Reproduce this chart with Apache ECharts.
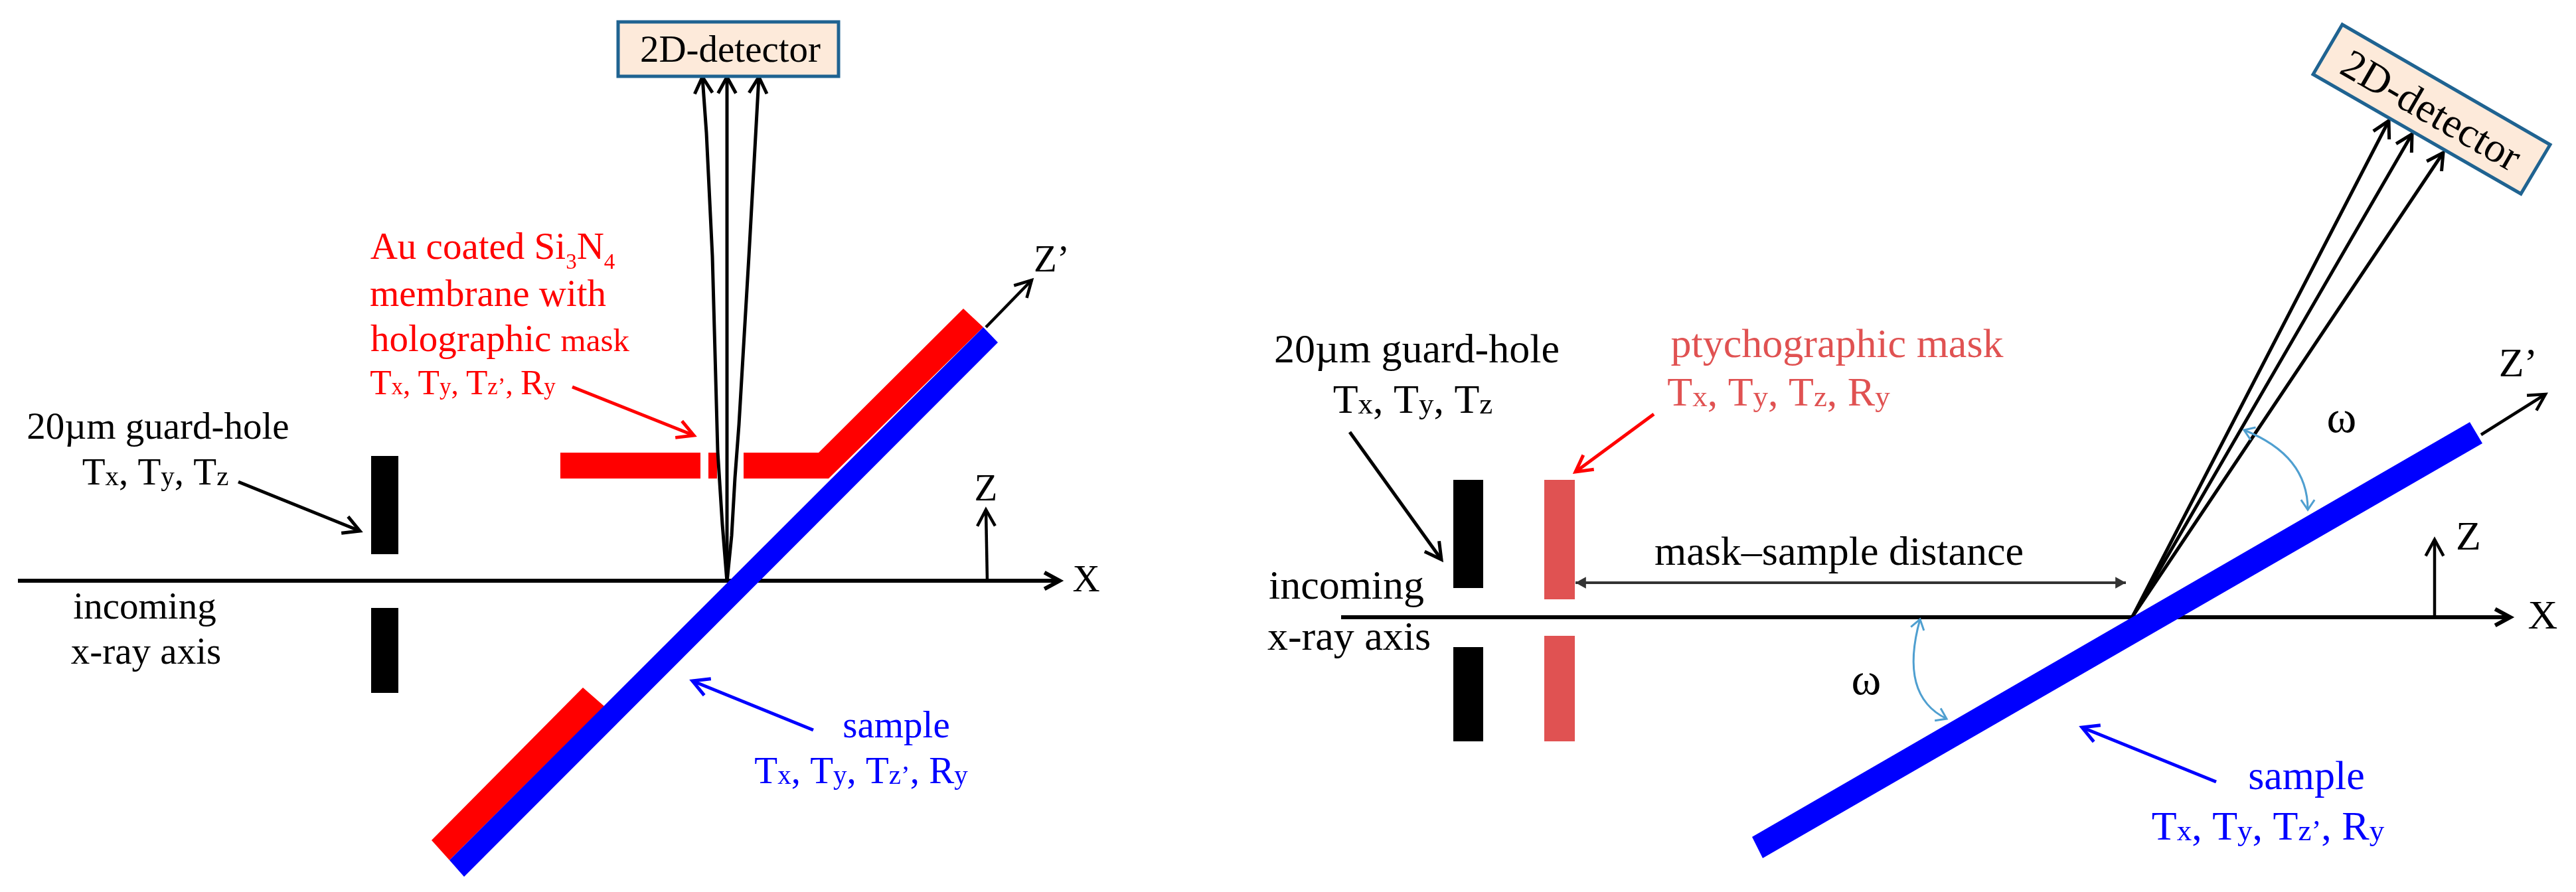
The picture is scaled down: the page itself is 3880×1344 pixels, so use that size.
<!DOCTYPE html>
<html>
<head>
<meta charset="utf-8">
<style>
  html, body { margin: 0; padding: 0; background: #fff; }
  #chart { width: 3880px; height: 1344px; }
</style>
<script src="https://cdn.jsdelivr.net/npm/echarts@6/dist/echarts.min.js"></script>
</head>
<body>
<div id="chart"></div>
<script>

// Left panel shapes
var leftDetector = [[931, 33], [1263, 33], [1263, 115], [931, 115]];
var leftSlits = [
    [[559, 687], [600, 687], [600, 835], [559, 835]],
    [[559, 916], [600, 916], [600, 1044], [559, 1044]]
];
var leftMask = [
    [[844, 682], [1055, 682], [1055, 721], [844, 721]],
    [[1067, 682], [1080, 682], [1080, 721], [1067, 721]],
    [[1120, 682], [1233, 682], [1451, 465], [1481, 493], [1248, 721], [1120, 721]],
    [[878, 1036], [910, 1064], [677, 1296], [650, 1266]]
];
var leftSample = [[1481, 493], [1503, 516], [699, 1321], [677, 1296]];

// Right panel shapes
var rightDetector = [[3528, 37], [3841, 218], [3797, 292], [3484, 112]];
var rightSlits = [
    [[2189, 723], [2234, 723], [2234, 886], [2189, 886]],
    [[2189, 975], [2234, 975], [2234, 1117], [2189, 1117]]
];
var rightMask = [
    [[2326, 723], [2372, 723], [2372, 903], [2326, 903]],
    [[2326, 958], [2372, 958], [2372, 1117], [2326, 1117]]
];
var rightSample = [[3720, 636], [3739, 668], [2655, 1293], [2639, 1261]];

// Arrows, tail to tip
var axisArrows = [
    [[27, 875], [1596, 875]],
    [[2020, 930], [3781, 930]]
];
var beamArrows = [
    [[1095, 877], [1088, 790], [1081, 680], [1073, 386], [1064, 200], [1058, 116]],
    [[1095, 877], [1095, 116]],
    [[1095, 877], [1102, 807], [1107, 720], [1113, 640], [1128, 386], [1143, 116]],
    [[3212, 929], [3598, 182]],
    [[3212, 929], [3633, 202]],
    [[3212, 929], [3680, 230]]
];
var frameArrows = [
    [[1487, 875], [1485, 768]],
    [[1485, 493], [1554, 422]],
    [[3667, 930], [3667, 813]],
    [[3737, 655], [3834, 594]]
];
var blackPointers = [
    [[359, 726], [542, 800]],
    [[2033, 651], [2171, 843]]
];
var redPointers = [
    [[862, 583], [1045, 656]],
    [[2491, 624], [2373, 711]]
];
var bluePointers = [
    [[1225, 1100], [1043, 1026]],
    [[3338, 1178], [3136, 1096]]
];
var distanceArrow = [[[2373, 878], [3202, 878]]];

// Omega arcs: start, control, end
var omegaArcs = [
    [[3380, 648], [3476, 686], [3476, 768]],
    [[2892, 933], [2860, 1048], [2932, 1083]]
];

// Labels: x, y, text
var leftBlackLabels = [
    [1100, 78, '2D-detector'],
    [238, 646, '20µm guard-hole'],
    [234, 715, '{m|T}{s|x}{m|, T}{s|y}{m|, T}{s|z}'],
    [218, 917, 'incoming'],
    [220, 985, 'x-ray axis'],
    [1636, 876, 'X'],
    [1485, 739, 'Z'],
    [1584, 394, 'Z’']
];
var leftRedLabels = [
    [742, 380, '{n|Au coated Si}{b|3}{n|N}{b|4}'],
    [735, 446, 'membrane with'],
    [753, 514, '{m|holographic }{k|mask}']
];
var leftRedMotionLabel = [
    [697, 580, '{m|T}{s|x}{c|, }{m|T}{s|y}{c|, }{m|T}{s|z’}{c|, }{m|R}{s|y}']
];
var leftBlueLabels = [
    [1350, 1096, 'sample'],
    [1297, 1165, '{m|T}{s|x}{m|, T}{s|y}{m|, T}{s|z’}{m|, R}{s|y}']
];
var rightBlackLabels = [
    [2134, 530, '20µm guard-hole'],
    [2128, 606, '{m|T}{s|x}{m|, T}{s|y}{m|, T}{s|z}'],
    [2028, 886, 'incoming'],
    [2032, 963, 'x-ray axis'],
    [2770, 835, 'mask–sample distance'],
    [3830, 931, 'X'],
    [3718, 812, 'Z'],
    [3793, 551, 'Z’']
];
var omegaLabels = [
    [3527, 633, 'ω'],
    [2811, 1028, 'ω']
];
var rightRedLabels = [
    [2767, 522, 'ptychographic mask'],
    [2679, 595, '{m|T}{s|x}{m|, T}{s|y}{m|, T}{s|z}{m|, R}{s|y}']
];
var rightBlueLabels = [
    [3474, 1173, 'sample'],
    [3416, 1249, '{m|T}{s|x}{m|, T}{s|y}{m|, T}{s|z’}{m|, R}{s|y}']
];
var rightDetectorLabel = [[3660, 170, '2D-detector']];

var SERIF = '"Liberation Serif"';

function font(size) {
    return size + 'px ' + SERIF;
}

// wing end of an arrow head, in pixels
function wing(tip, from, len, angle) {
    var a = Math.atan2(from[1] - tip[1], from[0] - tip[0]) + angle;
    return [tip[0] + Math.cos(a) * len, tip[1] + Math.sin(a) * len];
}

function shapeSeries(shapes, fill, z, stroke, strokeWidth) {
    return {
        type: 'custom',
        coordinateSystem: 'cartesian2d',
        clip: false,
        silent: true,
        z: z,
        data: shapes.map(function (s) { return s[0]; }),
        renderItem: function (params, api) {
            return {
                type: 'polygon',
                shape: { points: shapes[params.dataIndex].map(function (p) { return api.coord(p); }) },
                style: { fill: fill, stroke: stroke || null, lineWidth: strokeWidth || 0 }
            };
        }
    };
}

function arrowSeries(paths, color, width, headLen, z, filledBothEnds) {
    return {
        type: 'custom',
        coordinateSystem: 'cartesian2d',
        clip: false,
        silent: true,
        z: z,
        data: paths.map(function (s) { return s[0]; }),
        renderItem: function (params, api) {
            var pts = paths[params.dataIndex].map(function (p) { return api.coord(p); });
            var n = pts.length;
            var line = { stroke: color, fill: null, lineWidth: width };
            var kids = [{ type: 'polyline', shape: { points: pts }, style: line }];
            if (filledBothEnds) {
                [[pts[0], pts[1]], [pts[n - 1], pts[n - 2]]].forEach(function (e) {
                    kids.push({
                        type: 'polygon',
                        shape: { points: [e[0], wing(e[0], e[1], headLen, 0.5), wing(e[0], e[1], headLen, -0.5)] },
                        style: { fill: color }
                    });
                });
            } else {
                kids.push({
                    type: 'polyline',
                    shape: { points: [wing(pts[n - 1], pts[n - 2], headLen, 0.5), pts[n - 1], wing(pts[n - 1], pts[n - 2], headLen, -0.5)] },
                    style: line
                });
            }
            return { type: 'group', children: kids };
        }
    };
}

function arcSeries(arcs, color, width, headLen, z) {
    return {
        type: 'custom',
        coordinateSystem: 'cartesian2d',
        clip: false,
        silent: true,
        z: z,
        data: arcs.map(function (s) { return s[0]; }),
        renderItem: function (params, api) {
            var pts = arcs[params.dataIndex].map(function (p) { return api.coord(p); });
            var line = { stroke: color, fill: null, lineWidth: width };
            var head = function (tip, from) {
                return {
                    type: 'polyline',
                    shape: { points: [wing(tip, from, headLen, 0.6), tip, wing(tip, from, headLen, -0.6)] },
                    style: line
                };
            };
            return {
                type: 'group',
                children: [
                    {
                        type: 'bezierCurve',
                        shape: { x1: pts[0][0], y1: pts[0][1], cpx1: pts[1][0], cpy1: pts[1][1], x2: pts[2][0], y2: pts[2][1] },
                        style: line
                    },
                    head(pts[0], pts[1]),
                    head(pts[2], pts[1])
                ]
            };
        }
    };
}

// smaller tokens sit on the main baseline, the padding makes up for the height difference
function smallToken(size, small) {
    return {
        font: font(small),
        verticalAlign: 'bottom',
        padding: [0, 0, Math.round((size - small) * 0.2), 0]
    };
}

function labelSeries(labels, color, size, opts) {
    opts = opts || {};
    var rich = {
        m: { font: font(size) },
        n: { font: font(size), verticalAlign: 'bottom', padding: [0, 0, 9, 0] },
        s: smallToken(size, Math.round(size * (opts.small || 0.72))),
        c: smallToken(size, Math.round(size * 0.85)),
        k: smallToken(size, Math.round(size * 0.86)),
        b: { font: font(Math.round(size * 0.58)), verticalAlign: 'bottom' }
    };
    return {
        type: 'custom',
        coordinateSystem: 'cartesian2d',
        clip: false,
        silent: true,
        z: 10,
        data: labels.map(function (l) { return [l[0], l[1]]; }),
        renderItem: function (params, api) {
            var l = labels[params.dataIndex];
            var p = api.coord([l[0], l[1]]);
            return {
                type: 'text',
                x: p[0],
                y: p[1],
                rotation: opts.rotation || 0,
                style: {
                    text: l[2],
                    font: font(size),
                    fill: color,
                    align: 'center',
                    verticalAlign: 'middle',
                    rich: rich
                }
            };
        }
    };
}

var DETECTOR_FILL = '#fdeada';
var DETECTOR_EDGE = '#1f6391';
var RED = '#ff0000';
var BLUE = '#0000ff';
var MUTED_RED = '#e05252';
var ARC_BLUE = '#4f9fd0';

var option = {
    animation: false,
    backgroundColor: '#ffffff',
    tooltip: { show: false },
    grid: { left: 0, right: 0, top: 0, bottom: 0 },
    xAxis: { type: 'value', min: 0, max: 3880, show: false },
    yAxis: { type: 'value', min: 0, max: 1344, inverse: true, show: false },
    series: [
        // Masks first, the sample covers the axis lines
        shapeSeries(leftMask, RED, 1),
        shapeSeries(rightMask, MUTED_RED, 1),
        shapeSeries(leftSlits, '#000000', 1),
        shapeSeries(rightSlits, '#000000', 1),
        arrowSeries(axisArrows, '#000000', 6, 26, 2),
        arrowSeries(beamArrows, '#000000', 5, 28, 2),
        shapeSeries([leftSample], BLUE, 3),
        shapeSeries([rightSample], BLUE, 3),
        shapeSeries([leftDetector, rightDetector], DETECTOR_FILL, 3, DETECTOR_EDGE, 5),
        arrowSeries(frameArrows, '#000000', 4.5, 28, 4),
        arrowSeries(blackPointers, '#000000', 5, 28, 4),
        arrowSeries(redPointers, RED, 5, 28, 4),
        arrowSeries(bluePointers, BLUE, 5, 28, 4),
        arrowSeries(distanceArrow, '#333333', 4, 18, 4, true),
        arcSeries(omegaArcs, ARC_BLUE, 3, 18, 5),
        labelSeries(leftBlackLabels, '#000000', 57),
        labelSeries(leftRedLabels, RED, 57),
        labelSeries(leftRedMotionLabel, RED, 53, { small: 0.66 }),
        labelSeries(leftBlueLabels, BLUE, 57),
        labelSeries(rightBlackLabels, '#000000', 62),
        labelSeries(omegaLabels, '#000000', 68),
        labelSeries(rightRedLabels, MUTED_RED, 62),
        labelSeries(rightBlueLabels, BLUE, 62),
        labelSeries(rightDetectorLabel, '#000000', 63, { rotation: -Math.PI / 6 })
    ]
};

var chart = echarts.init(document.getElementById('chart'), null, { renderer: 'canvas' });
chart.setOption(option);
</script>
</body>
</html>
